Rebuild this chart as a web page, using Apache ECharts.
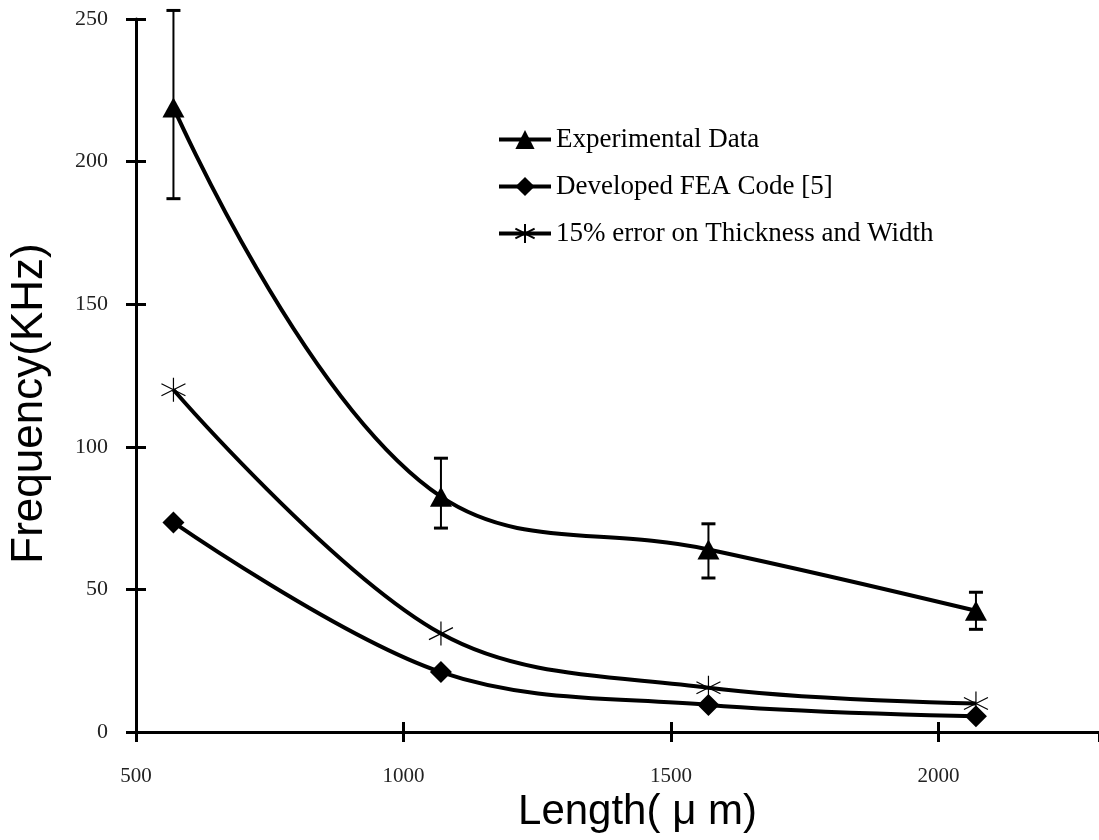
<!DOCTYPE html>
<html>
<head>
<meta charset="utf-8">
<script src="https://cdn.jsdelivr.net/npm/echarts@6/dist/echarts.min.js"></script>
<style>html,body{margin:0;padding:0;background:#fff}#c{width:1099px;height:840px}</style>
</head>
<body>
<div id="c"></div>
<script>
const lengths = [570, 1070, 1570, 2070];
const experimental = [219, 82.5, 64, 42.5];
const expErrLow = [187, 71.5, 54, 36];
const expErrHigh = [253, 96, 73, 49];
const feaCode = [73.5, 21, 9.5, 5.5];
const error15 = [120, 34.5, 15.5, 10];
const seriesNames = ['Experimental Data', 'Developed FEA Code [5]', '15% error on Thickness and Width'];
const xTicks = {min: 500, max: 2300, interval: 500};
const yTicks = {min: 0, max: 250, interval: 50};

const pair = (ys) => lengths.map((x, i) => [x, ys[i]]);
const serif = '"Liberation Serif", "DejaVu Serif", serif';
const sans = '"Liberation Sans", Arial, sans-serif';
const starPath = 'path://M10,0L10,20M1.34,5L18.66,15M1.34,15L18.66,5';

const chart = echarts.init(document.getElementById('c'), null, {renderer: 'canvas'});
const baseX = {type: 'value', min: xTicks.min, max: xTicks.max, interval: xTicks.interval, position: 'bottom', splitLine: {show: false}};
const baseY = {type: 'value', min: yTicks.min, max: yTicks.max, interval: yTicks.interval, position: 'left', splitLine: {show: false}};
chart.setOption({
  animation: false,
  backgroundColor: '#fff',
  grid: {left: 136, right: 0, top: 19, bottom: 108, outerBoundsMode: 'none', containLabel: false},
  xAxis: [
    Object.assign({}, baseX, {
      axisLine: {show: true, lineStyle: {color: '#000', width: 3}},
      axisTick: {show: true, inside: true, length: 10, lineStyle: {color: '#000', width: 3}},
      axisLabel: {show: true, margin: 34, color: '#222', fontFamily: serif, fontSize: 21,
        showMaxLabel: false, formatter: (v) => (v >= xTicks.max ? '' : String(v))},
      name: 'Length( μ m)', nameLocation: 'middle', nameGap: 58,
      nameTextStyle: {fontFamily: sans, fontSize: 42, color: '#000', padding: [0, 0, 0, 40]}
    }),
    Object.assign({}, baseX, {
      axisLine: {show: false},
      axisTick: {show: true, inside: false, length: 10, lineStyle: {color: '#000', width: 3}},
      axisLabel: {show: false}
    })
  ],
  yAxis: [
    Object.assign({}, baseY, {
      axisLine: {show: true, lineStyle: {color: '#000', width: 3}},
      axisTick: {show: true, inside: true, length: 10, lineStyle: {color: '#000', width: 3}},
      axisLabel: {show: true, margin: 28, color: '#222', fontFamily: serif, fontSize: 22, formatter: (v) => String(v)},
      name: 'Frequency(KHz)', nameLocation: 'middle', nameGap: 84,
      nameTextStyle: {fontFamily: sans, fontSize: 44, color: '#000', padding: [0, 56, 0, 0]}
    }),
    Object.assign({}, baseY, {
      axisLine: {show: false},
      axisTick: {show: true, inside: false, length: 10, lineStyle: {color: '#000', width: 3}},
      axisLabel: {show: false}
    })
  ],
  legend: {
    orient: 'vertical', left: 492, top: 121, itemWidth: 52, itemHeight: 24, itemGap: 20,
    textStyle: {fontFamily: serif, fontSize: 27, color: '#000'},
    lineStyle: {width: 4},
    data: seriesNames
  },
  series: [
    {
      name: seriesNames[0], type: 'line', data: pair(experimental), smooth: 0.4,
      symbol: 'triangle', symbolSize: [22, 20],
      lineStyle: {color: '#000', width: 4}, itemStyle: {color: '#000'}, z: 3
    },
    {
      name: seriesNames[1], type: 'line', data: pair(feaCode), smooth: 0.35,
      symbol: 'diamond', symbolSize: [22, 22],
      lineStyle: {color: '#000', width: 4}, itemStyle: {color: '#000'}, z: 3
    },
    {
      name: seriesNames[2], type: 'line', data: pair(error15), smooth: 0.35,
      symbol: starPath, symbolSize: [24, 24],
      lineStyle: {color: '#000', width: 4}, itemStyle: {color: '#000', borderColor: '#000', borderWidth: 1.2}, z: 3
    },
    {
      type: 'custom', name: 'errorbars', silent: true, z: 4,
      data: lengths.map((x, i) => [x, expErrLow[i], expErrHigh[i]]),
      encode: {x: 0, y: [1, 2]},
      renderItem: function (params, api) {
        const x = api.value(0);
        const lo = api.coord([x, api.value(1)]);
        const hi = api.coord([x, api.value(2)]);
        const w = 7;
        const st = {stroke: '#000', lineWidth: 2};
        const cap = {stroke: '#000', lineWidth: 3};
        return {type: 'group', children: [
          {type: 'line', shape: {x1: lo[0], y1: lo[1], x2: hi[0], y2: hi[1]}, style: st},
          {type: 'line', shape: {x1: lo[0] - w, y1: lo[1], x2: lo[0] + w, y2: lo[1]}, style: cap},
          {type: 'line', shape: {x1: hi[0] - w, y1: hi[1], x2: hi[0] + w, y2: hi[1]}, style: cap}
        ]};
      }
    }
  ]
});
</script>
</body>
</html>
